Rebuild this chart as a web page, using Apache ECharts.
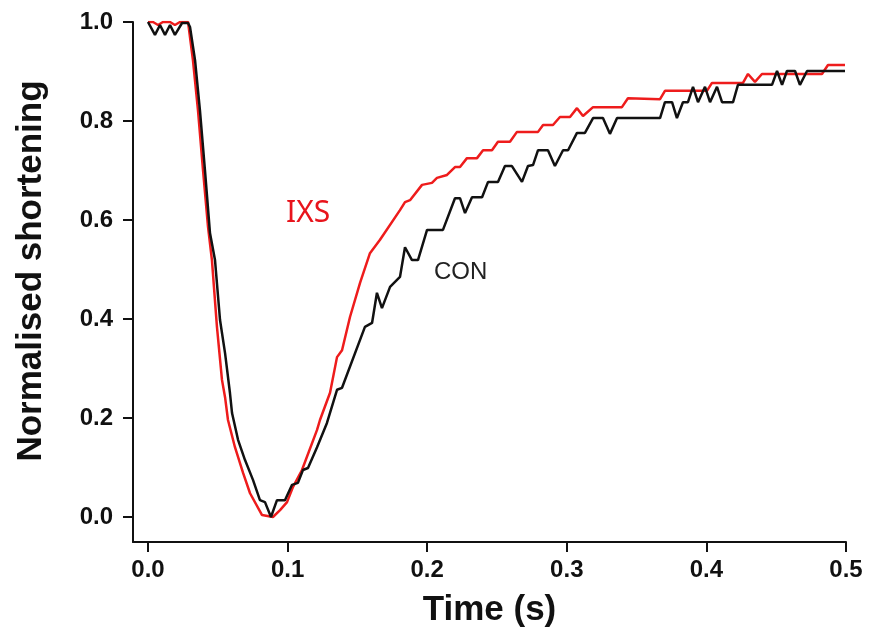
<!DOCTYPE html>
<html>
<head>
<meta charset="utf-8">
<script src="https://cdn.jsdelivr.net/npm/echarts@6/dist/echarts.min.js"></script>
<style>html,body{margin:0;padding:0;background:#fff}#c{width:869px;height:638px}</style>
</head>
<body>
<div id="c"></div>
<script>
// CON (black) trace
const conTime = [0.000,0.005,0.0086,0.0122,0.0158,0.0193,0.0244,0.0287,0.0301,0.0337,0.0372,0.0408,0.0444,0.0480,0.0516,0.0552,0.0587,0.0602,0.0645,0.0695,0.0752,0.0802,0.0838,0.0881,0.0924,0.0981,0.1032,0.1074,0.1110,0.1146,0.1211,0.1282,0.1354,0.1390,0.1554,0.1605,0.1640,0.1676,0.1734,0.1805,0.1841,0.1891,0.1934,0.1999,0.2113,0.2199,0.2235,0.2271,0.2321,0.2393,0.2436,0.2507,0.2557,0.2607,0.2679,0.2722,0.2758,0.2794,0.2865,0.2915,0.2973,0.3009,0.3073,0.3130,0.3188,0.3259,0.3309,0.3360,0.3668,0.3703,0.3754,0.3789,0.3832,0.3868,0.3904,0.3940,0.3990,0.4026,0.4076,0.4112,0.4191,0.4226,0.4470,0.4506,0.4542,0.4577,0.4635,0.4670,0.4721,0.4993];
const conValue = [1.000,0.974,0.994,0.974,0.994,0.974,0.998,0.998,0.990,0.923,0.822,0.701,0.574,0.519,0.398,0.331,0.251,0.210,0.156,0.115,0.075,0.034,0.030,0.000,0.034,0.034,0.065,0.069,0.095,0.099,0.141,0.190,0.257,0.261,0.384,0.392,0.453,0.422,0.465,0.485,0.545,0.519,0.519,0.580,0.580,0.644,0.644,0.614,0.646,0.646,0.677,0.677,0.709,0.709,0.677,0.709,0.711,0.741,0.741,0.709,0.741,0.741,0.776,0.776,0.806,0.806,0.774,0.806,0.806,0.838,0.838,0.806,0.838,0.838,0.869,0.838,0.869,0.838,0.869,0.838,0.838,0.873,0.873,0.901,0.873,0.901,0.901,0.873,0.901,0.901];
// IXS (red) trace
const ixsTime = [0.000,0.0036,0.0072,0.0107,0.0158,0.0193,0.0229,0.0287,0.0322,0.0358,0.0394,0.0430,0.0458,0.0494,0.0530,0.0552,0.0573,0.0623,0.0681,0.0731,0.0817,0.0895,0.0946,0.0996,0.1039,0.1103,0.1211,0.1232,0.1304,0.1354,0.1390,0.1447,0.1519,0.1590,0.1662,0.1805,0.1841,0.1877,0.1963,0.2034,0.2070,0.2142,0.2199,0.2235,0.2285,0.2357,0.2400,0.2464,0.2507,0.2593,0.2643,0.2794,0.2830,0.2901,0.2951,0.3023,0.3073,0.3116,0.3188,0.3395,0.3438,0.3668,0.3703,0.4004,0.4040,0.4262,0.4298,0.4348,0.4398,0.4828,0.4871,0.4993];
const ixsValue = [1.000,1.000,0.994,1.000,1.000,0.994,1.000,1.000,0.923,0.822,0.701,0.586,0.519,0.384,0.277,0.242,0.196,0.141,0.089,0.048,0.004,0.000,0.014,0.030,0.061,0.095,0.176,0.196,0.251,0.323,0.337,0.404,0.473,0.533,0.560,0.620,0.636,0.640,0.671,0.675,0.685,0.691,0.707,0.707,0.725,0.725,0.741,0.741,0.758,0.758,0.778,0.778,0.792,0.792,0.808,0.808,0.826,0.810,0.828,0.828,0.846,0.844,0.861,0.861,0.877,0.877,0.895,0.879,0.895,0.895,0.913,0.913];
// tick labels
const xTicks = [0, 0.1, 0.2, 0.3, 0.4, 0.5];
const yTicks = [0, 0.2, 0.4, 0.6, 0.8, 1.0];

const pairs = (t, v) => t.map((x, i) => [x, v[i]]);
const chart = echarts.init(document.getElementById('c'), null, {renderer: 'canvas'});
const lblFont = {fontFamily: 'Liberation Sans, Arial, sans-serif', fontWeight: 'bold', fontSize: 24, color: '#111'};
const titleFont = {fontFamily: 'Liberation Sans, Arial, sans-serif', fontWeight: 'bold', fontSize: 35, color: '#111'};
chart.setOption({
  animation: false,
  backgroundColor: '#fff',
  grid: {left: 133, right: 23, top: 22, bottom: 96, containLabel: false},
  xAxis: {
    type: 'value', min: -0.01074, max: 0.5,
    name: 'Time (s)', nameLocation: 'middle', nameGap: 51,
    nameTextStyle: titleFont,
    axisLine: {show: true, onZero: false, lineStyle: {color: '#111', width: 2}},
    axisTick: {show: true, inside: false, length: 10, lineStyle: {color: '#111', width: 2}, customValues: xTicks},
    axisLabel: Object.assign({margin: 16, customValues: xTicks, formatter: v => v.toFixed(1)}, lblFont),
    splitLine: {show: false}
  },
  yAxis: {
    type: 'value', min: -0.0505, max: 1.0,
    name: 'Normalised shortening', nameLocation: 'middle', nameGap: 84, nameRotate: 90,
    nameTextStyle: Object.assign({padding: [0, 0, 0, 22]}, titleFont),
    axisLine: {show: true, onZero: false, lineStyle: {color: '#111', width: 2}},
    axisTick: {show: true, inside: false, length: 10, lineStyle: {color: '#111', width: 2}, customValues: yTicks},
    axisLabel: Object.assign({margin: 20, customValues: yTicks, formatter: v => v.toFixed(1)}, lblFont),
    splitLine: {show: false}
  },
  series: [
    {name: 'CON', type: 'line', data: pairs(conTime, conValue), showSymbol: false, symbol: 'none',
     lineStyle: {color: '#111', width: 2.5}, z: 3},
    {name: 'IXS', type: 'line', data: pairs(ixsTime, ixsValue), showSymbol: false, symbol: 'none',
     lineStyle: {color: '#ee1c1c', width: 2.5}, z: 2}
  ],
  graphic: [
    {type: 'text', left: 286, top: 198, style: {text: 'IXS', fill: '#e8141c', font: '30px "Noto Sans", "Open Sans", sans-serif'}},
    {type: 'text', left: 434, top: 260, style: {text: 'CON', fill: '#222', font: '24px "Liberation Sans", Arial, sans-serif'}}
  ]
});
</script>
</body>
</html>
